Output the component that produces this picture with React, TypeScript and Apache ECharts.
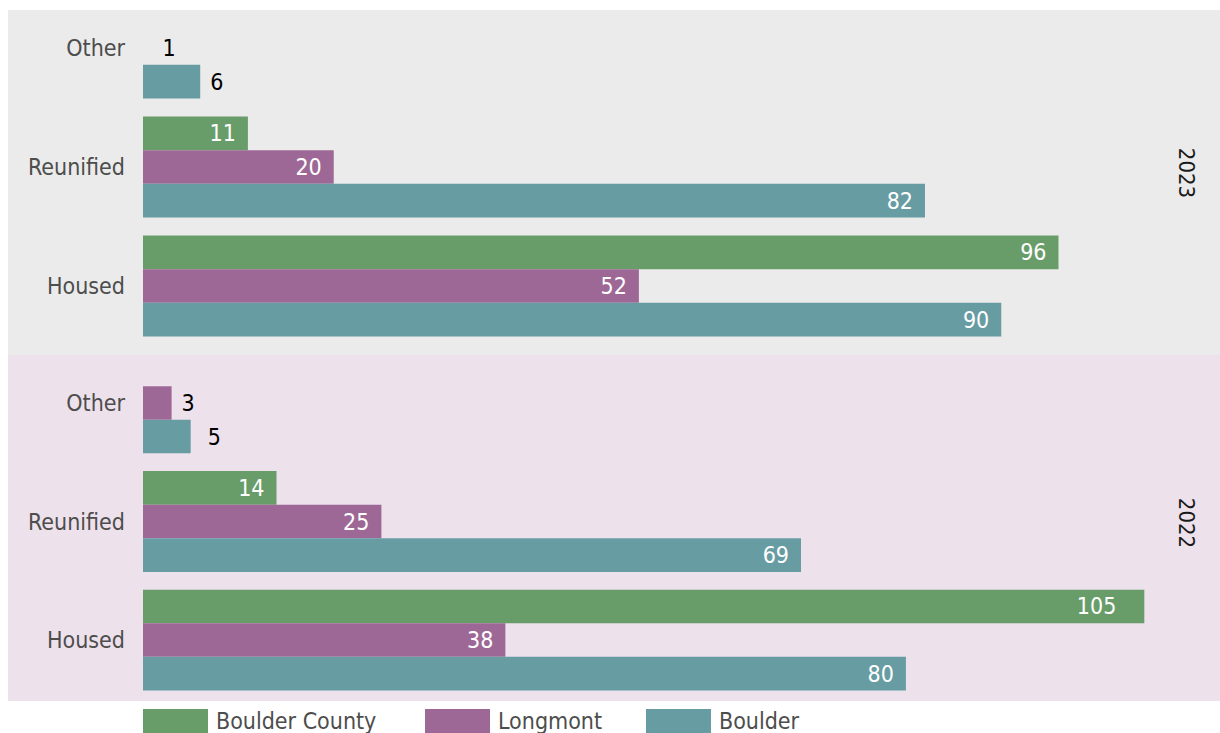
import React, { useEffect, useRef } from "react";
import * as echarts from "echarts";

const categories = ["Other", "Reunified", "Housed"];
const seriesNames = ["Boulder County", "Longmont", "Boulder"];
const colors = ["#689d6a", "#9e6896", "#679ca3"];

// 2023 values, in category order Other, Reunified, Housed
const bc2023: (number | null)[] = [null, 11, 96];
const longmont2023: (number | null)[] = [1, 20, 52];
const boulder2023: (number | null)[] = [6, 82, 90];

// 2022 values
const bc2022: (number | null)[] = [null, 14, 105];
const longmont2022: (number | null)[] = [3, 25, 38];
const boulder2022: (number | null)[] = [5, 69, 80];

const years = ["2023", "2022"];

const FONT = "'Liberation Sans Narrow', 'DejaVu Sans Condensed', 'Roboto', sans-serif";

// the chart canvas is shifted up by this many pixels so that the top grid can start above the page
const SHIFT = 12;

function makeData(vals: (number | null)[], seriesIdx: number, yearIdx: number) {
  return vals.map((v) => {
    if (v === null) return "-";
    const small = v < 10;
    const item: any = {
      value: v,
      label: small
        ? { position: "right", color: "#000000", distance: v === 5 ? 17 : 10 }
        : { position: "insideRight", color: "#ffffff", distance: v >= 100 ? 28 : 12 },
    };
    // the 2023 Longmont "Other" bar is not drawn in the reference, only its label
    if (yearIdx === 0 && seriesIdx === 1 && v === 1) {
      item.itemStyle = { color: "rgba(0,0,0,0)" };
    }
    return item;
  });
}

export default function App() {
  const ref = useRef<HTMLDivElement>(null);
  useEffect(() => {
    if (!ref.current) return;
    const chart = echarts.init(ref.current, null, { renderer: "svg" });
    const yearData = [
      [bc2023, longmont2023, boulder2023],
      [bc2022, longmont2022, boulder2022],
    ];
    const grids = [
      { left: 143, top: -11.5 + SHIFT, width: 1049, height: 357 },
      { left: 143, top: 343.7 + SHIFT, width: 1049, height: 355.6 },
    ];
    const series: any[] = [];
    yearData.forEach((sets, yi) => {
      sets.forEach((vals, si) => {
        series.push({
          type: "bar",
          name: seriesNames[si],
          xAxisIndex: yi,
          yAxisIndex: yi,
          barWidth: 33.6,
          barGap: "0%",
          itemStyle: { color: colors[si] },
          label: {
            show: true,
            fontFamily: FONT,
            fontSize: 23,
          },
          data: makeData(vals, si, yi),
        });
      });
    });
    const legendLefts = [143, 425, 646];
    chart.setOption({
      animation: false,
      textStyle: { fontFamily: FONT },
      grid: grids,
      xAxis: grids.map((_, i) => ({
        type: "value",
        gridIndex: i,
        min: 0,
        max: 110,
        show: false,
      })),
      yAxis: grids.map((_, i) => ({
        type: "category",
        gridIndex: i,
        inverse: true,
        data: categories,
        axisLine: { show: false },
        axisTick: { show: false },
        splitLine: { show: false },
        axisLabel: {
          color: "#4d4d4d",
          fontFamily: FONT,
          fontSize: 23,
          margin: 18,
        },
      })),
      legend: seriesNames.map((n, i) => ({
        data: [n],
        left: legendLefts[i],
        top: 709 + SHIFT,
        padding: 0,
        itemWidth: 65,
        itemHeight: 24,
        itemGap: 8,
        selectedMode: false,
        icon: "rect",
        textStyle: { color: "#4d4d4d", fontFamily: FONT, fontSize: 23, padding: [0, 0, 0, 3] },
      })),
      graphic: [
        {
          type: "rect",
          z: -10,
          silent: true,
          shape: { x: 8, y: 10 + SHIFT, width: 1212, height: 345 },
          style: { fill: "#ebebeb" },
        },
        {
          type: "rect",
          z: -10,
          silent: true,
          shape: { x: 8, y: 355 + SHIFT, width: 1212, height: 346 },
          style: { fill: "#ede1ec" },
        },
        {
          type: "text",
          x: 1186,
          y: 173 + SHIFT,
          rotation: -Math.PI / 2,
          style: {
            text: years[0],
            fill: "#1a1a1a",
            font: "22px " + FONT,
            align: "center",
            verticalAlign: "middle",
          },
        },
        {
          type: "text",
          x: 1186,
          y: 523 + SHIFT,
          rotation: -Math.PI / 2,
          style: {
            text: years[1],
            fill: "#1a1a1a",
            font: "22px " + FONT,
            align: "center",
            verticalAlign: "middle",
          },
        },
      ],
      series,
    });
    return () => chart.dispose();
  }, []);
  return (
    <div
      ref={ref}
      style={{ position: "absolute", left: 0, top: -SHIFT, width: 1220, height: 733 + SHIFT }}
    />
  );
}
